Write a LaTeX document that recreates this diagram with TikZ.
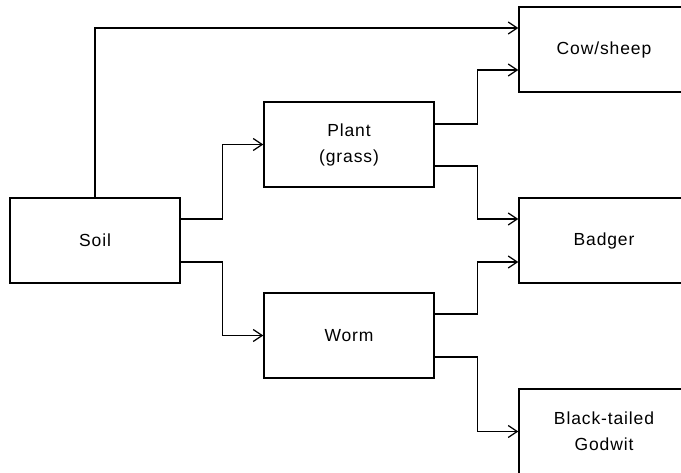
\documentclass[tikz,border=0pt]{standalone}
\usepackage{fontspec}
\setmainfont{Liberation Sans}[LetterSpace=5]
\usetikzlibrary{arrows.meta}
\begin{document}
\begin{tikzpicture}[x=1pt,y=1pt,
  box/.style={draw, line width=1.3pt, minimum width=170pt, minimum height=85pt, inner sep=0pt, align=center, font=\fontsize{17.5}{26}\selectfont},
  arr/.style={line width=1.3pt, -{Straight Barb[length=9pt,width=12pt,line width=1.3pt]}}]
\useasboundingbox (0,0) rectangle (681,472);
\clip (0,0) rectangle (681,472);
\node[box] (soil) at (95,231.5) {Soil};
\node[box] (plant) at (349,327.5) {Plant\\(grass)};
\node[box] (worm) at (349,136.5) {Worm};
\node[box] (cow) at (604,422.5) {Cow/sheep};
\node[box] (badger) at (604,231.5) {Badger};
\node[box] (godwit) at (604,40.5) {Black-tailed\\Godwit};
\draw[arr] (soil.north) |- ([yshift=21.5pt]cow.west);
\draw[arr] ([yshift=21.5pt]soil.east) -- ++(42,0) |- (plant.west);
\draw[arr] ([yshift=-21.5pt]soil.east) -- ++(42,0) |- (worm.west);
\draw[arr] ([yshift=20.5pt]plant.east) -- ++(43,0) |- ([yshift=-20.5pt]cow.west);
\draw[arr] ([yshift=-21.5pt]plant.east) -- ++(43,0) |- ([yshift=21.5pt]badger.west);
\draw[arr] ([yshift=21.5pt]worm.east) -- ++(43,0) |- ([yshift=-21.5pt]badger.west);
\draw[arr] ([yshift=-21.5pt]worm.east) -- ++(43,0) |- (godwit.west);
\end{tikzpicture}
\end{document}
